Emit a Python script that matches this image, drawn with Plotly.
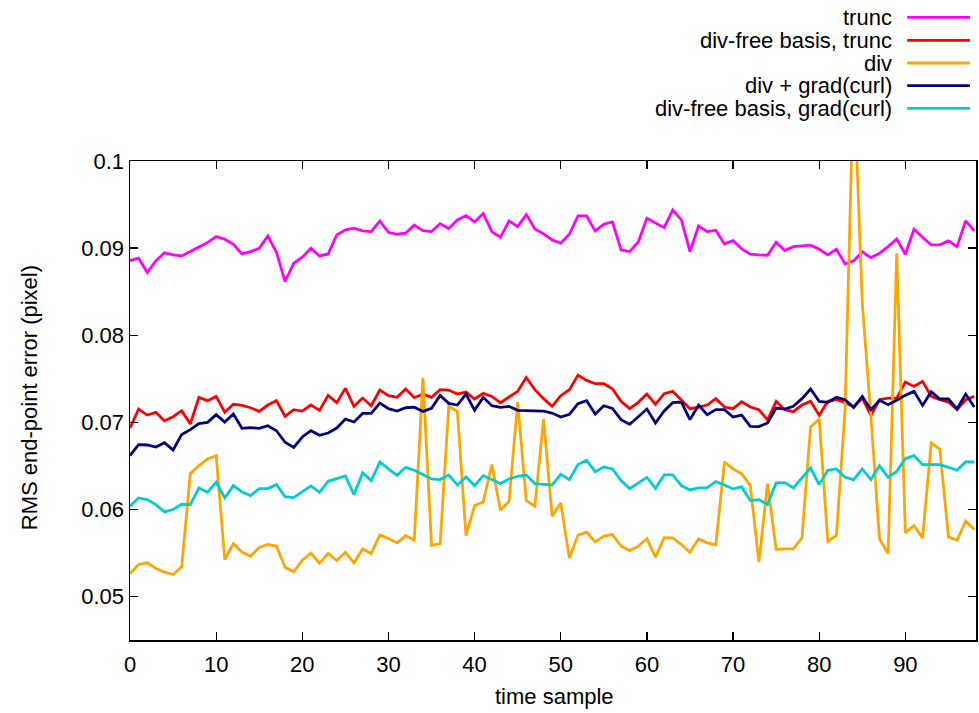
import plotly.graph_objects as go

# ---------------- data ----------------
time_sample = list(range(99))

trunc = [0.08857, 0.08884, 0.08719, 0.08853, 0.08945, 0.08922, 0.08910, 0.08960, 0.09006, 0.09063,
         0.09132, 0.09102, 0.09044, 0.08933, 0.08960, 0.08998, 0.09140, 0.08952, 0.08616, 0.08826,
         0.08895, 0.08998, 0.08910, 0.08933, 0.09151, 0.09209, 0.09228, 0.09197, 0.09189, 0.09312,
         0.09182, 0.09159, 0.09172, 0.09264, 0.09201, 0.09189, 0.09281, 0.09224, 0.09323, 0.09373,
         0.09300, 0.09396, 0.09189, 0.09124, 0.09312, 0.09247, 0.09384, 0.09220, 0.09163, 0.09094,
         0.09056, 0.09159, 0.09369, 0.09369, 0.09197, 0.09274, 0.09300, 0.08979, 0.08960, 0.09071,
         0.09342, 0.09289, 0.09235, 0.09438, 0.09323, 0.08960, 0.09254, 0.09189, 0.09205, 0.09048,
         0.09086, 0.08991, 0.08930, 0.08922, 0.08918, 0.09067, 0.08972, 0.09017, 0.09029, 0.09033,
         0.08987, 0.08922, 0.08987, 0.08819, 0.08853, 0.08956, 0.08891, 0.08941, 0.09017, 0.09105,
         0.08930, 0.09216, 0.09124, 0.09037, 0.09037, 0.09082, 0.09017, 0.09312, 0.09197]

divfree_trunc = [0.06934, 0.07152, 0.07083, 0.07114, 0.07018, 0.07064, 0.07133, 0.06980, 0.07286, 0.07248,
                 0.07297, 0.07114, 0.07206, 0.07194, 0.07167, 0.07125, 0.07198, 0.07248, 0.07068, 0.07145,
                 0.07129, 0.07198, 0.07137, 0.07309, 0.07225, 0.07389, 0.07183, 0.07278, 0.07190, 0.07370,
                 0.07305, 0.07286, 0.07382, 0.07282, 0.07324, 0.07286, 0.07374, 0.07370, 0.07324, 0.07347,
                 0.07267, 0.07332, 0.07297, 0.07225, 0.07290, 0.07355, 0.07515, 0.07374, 0.07271, 0.07183,
                 0.07305, 0.07374, 0.07542, 0.07481, 0.07443, 0.07443, 0.07385, 0.07240, 0.07156, 0.07229,
                 0.07324, 0.07206, 0.07328, 0.07355, 0.07255, 0.07156, 0.07175, 0.07198, 0.07271, 0.07175,
                 0.07156, 0.07236, 0.07175, 0.07145, 0.07026, 0.07240, 0.07145, 0.07122, 0.07198, 0.07240,
                 0.07080, 0.07240, 0.07259, 0.07229, 0.07175, 0.07278, 0.07080, 0.07259, 0.07278, 0.07278,
                 0.07462, 0.07412, 0.07470, 0.07297, 0.07259, 0.07232, 0.07145, 0.07259, 0.07297]

div = [0.05264, 0.05367, 0.05386, 0.05325, 0.05279, 0.05252, 0.05340, 0.06410, 0.06502, 0.06579,
       0.06617, 0.05424, 0.05608, 0.05508, 0.05462, 0.05562, 0.05596, 0.05577, 0.05336, 0.05283,
       0.05416, 0.05497, 0.05382, 0.05493, 0.05413, 0.05508, 0.05386, 0.05546, 0.05493, 0.05707,
       0.05665, 0.05615, 0.05699, 0.05646, 0.07507, 0.05588, 0.05608, 0.07183, 0.07125, 0.05699,
       0.06043, 0.06085, 0.06514, 0.05990, 0.06093, 0.07232, 0.06101, 0.06036, 0.07037, 0.05921,
       0.06074, 0.05443, 0.05703, 0.05738, 0.05627, 0.05692, 0.05711, 0.05577, 0.05527, 0.05577,
       0.05665, 0.05451, 0.05672, 0.05672, 0.05596, 0.05508, 0.05661, 0.05615, 0.05592, 0.06544,
       0.06464, 0.06410, 0.06273, 0.05394, 0.06296, 0.05539, 0.05546, 0.05546, 0.05673, 0.06946,
       0.07037, 0.05634, 0.05699, 0.07144, 0.11000, 0.08368, 0.07068, 0.05661, 0.05493, 0.08941,
       0.05730, 0.05814, 0.05673, 0.06762, 0.06693, 0.05684, 0.05646, 0.05864, 0.05768]

div_gradcurl = [0.06617, 0.06743, 0.06739, 0.06716, 0.06766, 0.06682, 0.06858, 0.06915, 0.06984, 0.06999,
                0.07087, 0.07003, 0.07095, 0.06930, 0.06938, 0.06930, 0.06961, 0.06903, 0.06770, 0.06712,
                0.06831, 0.06903, 0.06850, 0.06877, 0.06934, 0.07037, 0.07003, 0.07102, 0.07102, 0.07221,
                0.07156, 0.07129, 0.07167, 0.07173, 0.07125, 0.07160, 0.07309, 0.07217, 0.07198, 0.07324,
                0.07137, 0.07286, 0.07190, 0.07171, 0.07183, 0.07137, 0.07133, 0.07129, 0.07129, 0.07106,
                0.07060, 0.07091, 0.07213, 0.07248, 0.07095, 0.07190, 0.07160, 0.07030, 0.06976, 0.07064,
                0.07152, 0.06992, 0.07129, 0.07225, 0.07232, 0.07030, 0.07198, 0.07087, 0.07145, 0.07145,
                0.07060, 0.07083, 0.06953, 0.06950, 0.06992, 0.07164, 0.07152, 0.07183, 0.07271, 0.07382,
                0.07240, 0.07229, 0.07286, 0.07259, 0.07171, 0.07297, 0.07145, 0.07252, 0.07202, 0.07252,
                0.07309, 0.07355, 0.07194, 0.07351, 0.07267, 0.07267, 0.07152, 0.07324, 0.07175]

divfree_gradcurl = [0.06036, 0.06131, 0.06112, 0.06055, 0.05971, 0.05998, 0.06059, 0.06055, 0.06246, 0.06196,
                    0.06311, 0.06131, 0.06273, 0.06200, 0.06158, 0.06238, 0.06238, 0.06284, 0.06147, 0.06135,
                    0.06204, 0.06269, 0.06196, 0.06322, 0.06353, 0.06384, 0.06170, 0.06418, 0.06330, 0.06544,
                    0.06464, 0.06391, 0.06483, 0.06450, 0.06399, 0.06349, 0.06342, 0.06395, 0.06280, 0.06372,
                    0.06273, 0.06387, 0.06342, 0.06296, 0.06349, 0.06380, 0.06395, 0.06296, 0.06288, 0.06280,
                    0.06403, 0.06342, 0.06514, 0.06563, 0.06433, 0.06487, 0.06464, 0.06330, 0.06238, 0.06303,
                    0.06368, 0.06242, 0.06395, 0.06395, 0.06273, 0.06223, 0.06246, 0.06250, 0.06319, 0.06280,
                    0.06235, 0.06258, 0.06101, 0.06112, 0.06055, 0.06303, 0.06307, 0.06246, 0.06361, 0.06475,
                    0.06284, 0.06449, 0.06464, 0.06368, 0.06342, 0.06464, 0.06342, 0.06502, 0.06368, 0.06437,
                    0.06582, 0.06617, 0.06514, 0.06514, 0.06514, 0.06483, 0.06449, 0.06544, 0.06544]

series_names = ["trunc", "div-free basis, trunc", "div", "div + grad(curl)", "div-free basis, grad(curl)"]
series_values = [trunc, divfree_trunc, div, div_gradcurl, divfree_gradcurl]
series_colors = ["#ff00ff", "#ff0000", "#ffa500", "#000080", "#00cdd0"]

x_tickvals = [0, 10, 20, 30, 40, 50, 60, 70, 80, 90]
y_tickvals = [0.05, 0.06, 0.07, 0.08, 0.09, 0.1]
y_ticktext = ["0.05", "0.06", "0.07", "0.08", "0.09", "0.1"]

# ---------------- layout geometry (page pixels; body margin removed) ----------------
W, H = 979, 713
ML, MR, MT, MB = 130, 1, 161, 73
PW, PH = W - ML - MR, H - MT - MB
FONT = "Liberation Sans, Arial, sans-serif"
FS = 22
LW = 2.8


def px_x(px):
    return (px - ML) / PW


def px_y(py):
    return (H - MB - py) / PH


fig = go.Figure()
for name, vals, col in zip(series_names, series_values, series_colors):
    fig.add_trace(go.Scatter(x=time_sample, y=vals, mode="lines", name=name,
                             line=dict(color=col, width=LW), showlegend=False))

# gnuplot-style key: right-aligned text with sample line on the right
key_rows = [17.3, 40.3, 63.0, 85.7, 108.3]
annotations = []
shapes = []
for name, col, ry in zip(series_names, series_colors, key_rows):
    annotations.append(dict(text=name, xref="paper", yref="paper", x=px_x(896), y=px_y(ry),
                            xanchor="right", yanchor="middle", showarrow=False,
                            font=dict(family=FONT, size=FS, color="#000000")))
    shapes.append(dict(type="line", xref="paper", yref="paper", x0=px_x(909), x1=px_x(972),
                       y0=px_y(ry), y1=px_y(ry), line=dict(color=col, width=LW)))

annotations.append(dict(text="RMS end-point error (pixel)", xref="paper", yref="paper",
                        x=px_x(29), y=px_y(398), textangle=-90, showarrow=False,
                        xanchor="center", yanchor="middle",
                        font=dict(family=FONT, size=FS, color="#000000")))
annotations.append(dict(text="time sample", xref="paper", yref="paper",
                        x=px_x(556), y=px_y(696), showarrow=False,
                        xanchor="center", yanchor="middle",
                        font=dict(family=FONT, size=FS, color="#000000")))

axis_common = dict(showgrid=False, zeroline=False, showline=True, linecolor="#000000", linewidth=1.5,
                   ticks="inside", ticklen=8, tickwidth=1.2, tickcolor="#000000", mirror="ticks",
                   tickfont=dict(family=FONT, size=FS, color="#000000"))

fig.update_layout(
    width=W, height=H,
    margin=dict(l=ML, r=MR, t=MT, b=MB, pad=0),
    paper_bgcolor="#ffffff", plot_bgcolor="#ffffff",
    xaxis=dict(range=[0, 98.2], tickvals=x_tickvals, ticklabelstandoff=4, **axis_common),
    yaxis=dict(range=[0.045, 0.1], tickvals=y_tickvals, ticktext=y_ticktext, **axis_common),
    annotations=annotations, shapes=shapes,
    showlegend=False,
)

fig.write_html("out.html",
               config={"displayModeBar": False, "staticPlot": True},
               post_script="document.body.style.margin='0px';document.body.style.overflow='hidden';")
